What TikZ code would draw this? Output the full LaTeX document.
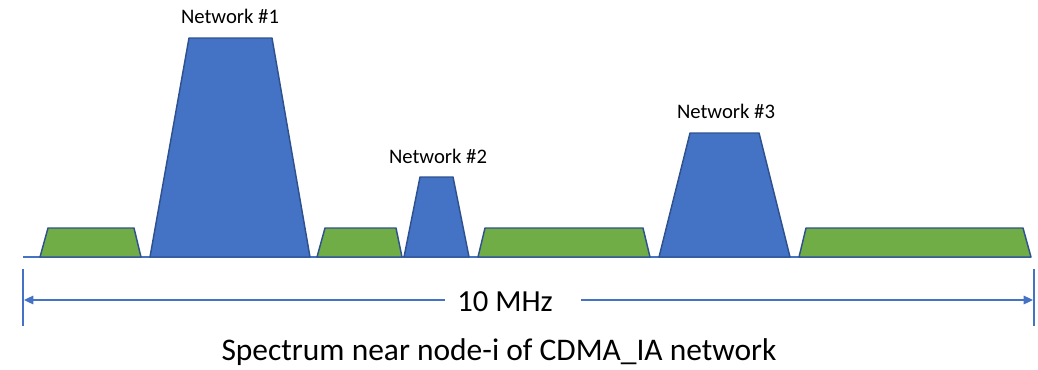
\documentclass[tikz,border=0pt]{standalone}
\usepackage{fontspec}
\setmainfont{Carlito}
\usetikzlibrary{arrows.meta}
\definecolor{netblue}{HTML}{4472C4}
\definecolor{edgeblue}{HTML}{2F528F}
\definecolor{bandgreen}{HTML}{70AD47}

\begin{document}
\begin{tikzpicture}[x=0.75pt,y=-0.75pt]
\tikzstyle{band} = [draw=edgeblue, line width=1.1pt, line join=round]
\tikzstyle{lbl} = [font=\fontsize{15.5}{18}\selectfont, anchor=base, inner sep=0]
\tikzstyle{big} = [font=\fontsize{23}{28}\selectfont, anchor=base, inner sep=0]
\tikzstyle{dim} = [draw=netblue, line width=0.8pt, -{Triangle[length=7pt,width=6.5pt]}]

\useasboundingbox (0,0) rectangle (1038,369);

% Asse delle frequenze
\def\base{257}
\draw[netblue, line width=0.8pt] (23,\base) -- (1031,\base);

% Bande: sx basso / dx basso / sx alto / dx alto / quota / colore
\foreach \bl/\br/\tl/\tr/\ty/\col in {40/141/48/134/228/bandgreen,
    150/310/189/272/38/netblue, 317/402/325/396/228/bandgreen,
    404/469/420/453/177/netblue, 478/650/485/643/228/bandgreen,
    659/790/690/759/133/netblue, 799/1031/806/1023/228/bandgreen} {
  \filldraw[band, fill=\col] (\bl,\base) -- (\tl,\ty) -- (\tr,\ty) -- (\br,\base) -- cycle;
}

% Etichette reti
\node[lbl] (net1) at (230,23) {Network \#1};
\node[lbl] (net2) at (438,163) {Network \#2};
\node[lbl] (net3) at (726,118) {Network \#3};

% Quota 10 MHz
\coordinate (tickLa) at (23,269);
\coordinate (tickLb) at (23,326);
\coordinate (tickRa) at (1034,269);
\coordinate (tickRb) at (1034,326);
\draw[netblue, line width=0.8pt] (tickLa) -- (tickLb);
\draw[netblue, line width=0.8pt] (tickRa) -- (tickRb);

\node[big] (mhz) at (505,311) {10 MHz};
\coordinate (gapL) at (445,300);
\coordinate (gapR) at (581,300);
\coordinate (endL) at (24,300);
\coordinate (endR) at (1033,300);
\draw[dim] (gapL) -- (endL);
\draw[dim] (gapR) -- (endR);

% Didascalia
\node[big, font=\fontsize{23.6}{28}\selectfont] (caption) at (499,360) {Spectrum near node-i of CDMA\_IA network};

\end{tikzpicture}
\end{document}
